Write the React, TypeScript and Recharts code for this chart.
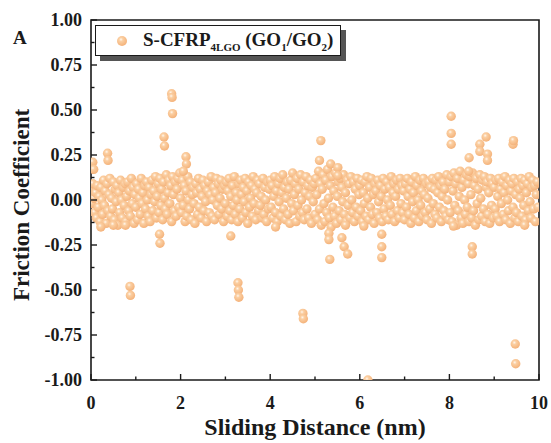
import React from 'react';
import {
  ScatterChart,
  Scatter,
  XAxis,
  YAxis,
  ReferenceArea,
  Legend,
  Label,
} from 'recharts';

const SERIES_NAME = 'S-CFRP4LGO (GO1/GO2)';

// sliding distance sampling step (nm)
const STEP = 0.02;

// friction coefficient of the main band, one row per nm of sliding distance
const baseFriction = [
  0.06, -0.02, 0.09, 0.01, -0.07, 0.04, -0.10, 0.08, -0.04, 0.02, -0.12, 0.07, 0.00, -0.08, 0.11, -0.03, 0.05, -0.13, 0.09, -0.06, 0.03, 0.12, -0.09, 0.01, -0.05,
  0.10, -0.11, 0.06, -0.01, 0.08, -0.14, 0.04, -0.07, 0.11, 0.00, -0.10, 0.07, -0.03, 0.09, -0.12, 0.02, 0.10, -0.06, 0.05, -0.09, 0.12, -0.02, 0.07, -0.13, 0.03,
  -0.04, 0.09, -0.11, 0.06, 0.01, -0.08, 0.12, -0.02, 0.04, -0.13, 0.08, -0.05, 0.10, 0.00, -0.09, 0.07, -0.12, 0.03, 0.11, -0.06, 0.05, -0.01, 0.13, -0.10, 0.02,
  0.09, -0.07, 0.12, -0.03, 0.06, -0.11, 0.10, 0.01, -0.05, 0.14, -0.08, 0.04, 0.11, -0.02, 0.08, -0.12, 0.13, 0.03, -0.06, 0.10, -0.09, 0.06, 0.12, -0.04, 0.15,
  0.01, -0.07, 0.11, -0.03, 0.08, -0.12, 0.05, -0.09, 0.13, 0.00, -0.05, 0.10, -0.11, 0.03, 0.07, -0.02, -0.13, 0.09, 0.04, -0.08, 0.12, -0.04, 0.06, -0.10, 0.02,
  0.11, -0.06, 0.08, -0.01, -0.12, 0.05, 0.10, -0.07, 0.03, 0.13, -0.09, 0.00, 0.07, -0.11, 0.04, 0.12, -0.03, 0.09, -0.08, 0.01, 0.11, -0.05, 0.06, -0.12, 0.08,
  -0.02, 0.10, -0.09, 0.05, 0.12, -0.06, 0.02, -0.11, 0.08, -0.03, 0.13, -0.08, 0.04, 0.00, -0.12, 0.09, -0.05, 0.11, 0.03, -0.10, 0.07, -0.01, 0.12, -0.07, 0.05,
  -0.13, 0.10, -0.04, 0.01, 0.08, -0.09, 0.13, -0.02, 0.06, -0.11, 0.04, 0.11, -0.06, 0.09, -0.03, 0.02, -0.10, 0.12, -0.08, 0.07, 0.00, -0.12, 0.10, -0.05, 0.06,
  0.11, -0.04, 0.08, -0.10, 0.02, 0.13, -0.07, 0.05, -0.12, 0.09, -0.01, 0.12, -0.09, 0.04, 0.14, -0.05, 0.07, -0.11, 0.01, 0.10, -0.08, 0.06, -0.13, 0.11, -0.02,
  0.15, -0.06, 0.03, 0.09, -0.12, 0.12, -0.03, 0.06, -0.09, 0.14, 0.00, -0.07, 0.10, -0.11, 0.04, 0.13, -0.05, 0.08, -0.10, 0.02, 0.11, -0.13, 0.07, -0.01, 0.09,
  -0.08, 0.12, 0.03, -0.11, 0.16, -0.05, 0.09, -0.14, 0.06, 0.14, -0.02, -0.12, 0.11, -0.07, 0.17, 0.01, -0.10, 0.08, -0.15, 0.13, -0.04, 0.05, -0.09, 0.15, -0.13,
  0.02, 0.10, -0.06, 0.12, -0.11, 0.07, -0.01, 0.14, -0.08, 0.04, -0.12, 0.11, -0.03, 0.09, -0.10, 0.13, 0.00, -0.07, 0.10, -0.12, 0.06, -0.04, 0.12, -0.09, 0.03,
  0.08, -0.06, 0.11, -0.12, 0.04, -0.02, 0.10, -0.09, 0.13, 0.01, -0.11, 0.07, -0.04, 0.12, -0.08, 0.03, -0.13, 0.09, 0.05, -0.07, 0.11, -0.01, -0.10, 0.08, 0.02,
  -0.12, 0.12, -0.05, 0.06, -0.09, 0.10, 0.00, -0.11, 0.07, -0.03, 0.13, -0.08, 0.04, 0.09, -0.12, 0.02, 0.11, -0.06, 0.06, -0.10, 0.12, -0.02, 0.08, -0.07, 0.05,
  -0.11, 0.09, -0.04, 0.12, 0.02, -0.08, 0.06, -0.13, 0.10, -0.01, 0.04, -0.10, 0.13, -0.06, 0.08, 0.00, -0.12, 0.11, -0.03, 0.05, -0.09, 0.12, 0.03, -0.07, 0.09,
  -0.11, 0.01, 0.10, -0.05, 0.07, -0.13, 0.12, -0.02, 0.06, -0.08, 0.11, -0.10, 0.04, 0.13, -0.04, 0.08, -0.12, 0.02, 0.10, -0.06, 0.06, -0.09, 0.14, 0.00, -0.11,
  0.10, -0.07, 0.13, -0.12, 0.05, 0.15, -0.03, 0.09, -0.14, 0.12, -0.06, 0.02, 0.16, -0.10, 0.07, -0.13, 0.11, 0.00, -0.08, 0.14, -0.04, 0.09, -0.12, 0.13, 0.03,
  -0.10, 0.15, -0.06, 0.08, -0.14, 0.12, -0.02, 0.06, -0.11, 0.14, 0.01, -0.09, 0.11, -0.05, 0.13, -0.12, 0.07, 0.10, -0.08, 0.04, -0.13, 0.12, -0.03, 0.09, -0.10,
  0.07, -0.05, 0.11, -0.09, 0.02, 0.12, -0.12, 0.06, -0.02, 0.10, -0.08, 0.04, 0.13, -0.11, 0.08, 0.00, -0.06, 0.11, -0.13, 0.05, 0.09, -0.04, 0.12, -0.10, 0.03,
  -0.07, 0.10, -0.12, 0.06, 0.01, 0.12, -0.09, 0.08, -0.03, 0.11, -0.11, 0.04, 0.09, -0.06, 0.13, -0.01, -0.10, 0.07, 0.11, -0.05, 0.08, -0.12, 0.03, 0.10, -0.04,
];

// spikes away from the main band
const spikeDistance = [
  0.04, 0.06, 0.37, 0.38, 1.63, 1.64, 1.80, 1.81, 1.82, 2.12, 2.13, 2.06, 1.53, 1.54, 0.22, 0.50, 0.77, 0.87, 0.88, 3.12,
  3.28, 3.29, 3.30, 4.12, 4.73, 4.74, 5.13, 5.10, 5.35, 5.51, 5.51, 5.31, 5.31, 5.33, 5.60, 5.65, 5.73, 5.68, 6.09, 6.18,
  6.49, 6.49, 6.49, 8.04, 8.04, 8.04, 8.09, 8.44, 8.43, 8.51, 8.51, 8.68, 8.68, 8.82, 8.85, 8.85, 9.42, 9.43, 9.47, 9.48, 9.68,
];
const spikeFriction = [
  0.21, 0.17, 0.26, 0.22, 0.35, 0.30, 0.59, 0.57, 0.48, 0.24, 0.20, 0.16, -0.19, -0.24, -0.15, -0.14, -0.14, -0.48, -0.53, -0.20,
  -0.46, -0.50, -0.54, -0.15, -0.63, -0.66, 0.33, 0.22, 0.20, 0.18, 0.135, -0.185, -0.22, -0.33, -0.21, -0.26, -0.30, -0.14, -0.145, -1.0,
  -0.19, -0.26, -0.32, 0.465, 0.37, 0.31, -0.145, 0.235, 0.16, -0.26, -0.30, 0.31, 0.27, 0.35, 0.255, 0.22, 0.31, 0.33, -0.80, -0.91, -0.14,
];

const xTicks = [0, 1, 2, 3, 4, 5, 6, 7, 8, 9, 10];
const yTicks = [-1, -0.875, -0.75, -0.625, -0.5, -0.375, -0.25, -0.125, 0, 0.125, 0.25, 0.375, 0.5, 0.625, 0.75, 0.875, 1];

const data = [
  ...baseFriction.map((f, i) => ({ d: +(i * STEP).toFixed(2), f })),
  ...spikeDistance.map((d, i) => ({ d, f: spikeFriction[i] })),
];

const FONT = "'Liberation Serif', 'Times New Roman', serif";
const INK = '#1a1a1a';

const Ball = (props: any) => {
  const { cx, cy } = props;
  if (cx == null || cy == null) return null;
  return <circle cx={cx} cy={cy} r={4.7} fill="url(#ball)" />;
};

const YTick = (props: any) => {
  const { x, y, payload } = props;
  const v = payload.value;
  const major = Math.abs(v * 4 - Math.round(v * 4)) < 1e-6;
  return (
    <g>
      <line x1={x} x2={x + (major ? 6 : 3.5)} y1={y} y2={y} stroke={INK} strokeWidth={1.4} />
      {major && (
        <text x={x - 9} y={y} dy="0.36em" textAnchor="end" fontFamily={FONT} fontWeight="bold" fontSize={18} fill={INK}>
          {v.toFixed(2)}
        </text>
      )}
    </g>
  );
};

const XTick = (props: any) => {
  const { x, y, payload } = props;
  const v = payload.value;
  const major = v % 2 === 0;
  return (
    <g>
      <line x1={x} x2={x} y1={y} y2={y - (major ? 6 : 3.5)} stroke={INK} strokeWidth={1.4} />
      {major && (
        <text x={x} y={y + 16} dy="0.71em" textAnchor="middle" fontFamily={FONT} fontWeight="bold" fontSize={18} fill={INK}>
          {v}
        </text>
      )}
    </g>
  );
};

const LegendBox = () => (
  <div
    style={{
      boxSizing: 'border-box',
      width: 246,
      height: 31,
      border: `1.5px solid ${INK}`,
      background: '#fff',
      boxShadow: '5px 5px 0 #555',
      display: 'flex',
      alignItems: 'center',
      fontFamily: FONT,
      fontWeight: 'bold',
      fontSize: 19,
      color: INK,
      whiteSpace: 'nowrap',
    }}
  >
    <svg width={12} height={12} style={{ marginLeft: 20, marginRight: 15 }}>
      <defs>
        <radialGradient id="ballLegend" cx="40%" cy="35%" r="65%">
          <stop offset="0%" stopColor="#fff7ee" />
          <stop offset="30%" stopColor="#fbcfa2" />
          <stop offset="100%" stopColor="#f4b27a" />
        </radialGradient>
      </defs>
      <circle cx={6} cy={6} r={5} fill="url(#ballLegend)" />
    </svg>
    <span>
      S-CFRP<sub style={{ fontSize: 11 }}>4LGO</sub> (GO<sub style={{ fontSize: 11 }}>1</sub>/GO<sub style={{ fontSize: 11 }}>2</sub>)
    </span>
  </div>
);

export default function App() {
  return (
    <div style={{ position: 'absolute', left: 0, top: 0, width: 551, height: 443, background: '#fff' }}>
      <div
        style={{
          position: 'absolute',
          left: 13,
          top: 27,
          fontFamily: FONT,
          fontWeight: 'bold',
          fontSize: 19,
          color: INK,
          zIndex: 2,
        }}
      >
        A
      </div>
      <ScatterChart width={551} height={443} margin={{ top: 20, right: 12, bottom: 23, left: 21 }}>
        <defs>
          <radialGradient id="ball" cx="40%" cy="35%" r="65%">
            <stop offset="0%" stopColor="#fff7ee" />
            <stop offset="30%" stopColor="#fbcfa2" />
            <stop offset="100%" stopColor="#f4b27a" />
          </radialGradient>
        </defs>
        <XAxis
          type="number"
          dataKey="d"
          domain={[0, 10]}
          ticks={xTicks}
          interval={0}
          height={40}
          tickSize={0}
          tickMargin={0}
          tickLine={false}
          axisLine={false}
          tick={<XTick />}
          allowDataOverflow
        >
          <Label
            value="Sliding Distance (nm)"
            position="bottom"
            offset={-2}
            style={{ fontFamily: FONT, fontWeight: 'bold', fontSize: 24, fill: INK }}
          />
        </XAxis>
        <YAxis
          type="number"
          dataKey="f"
          domain={[-1, 1]}
          ticks={yTicks}
          interval={0}
          width={70}
          tickSize={0}
          tickMargin={0}
          tickLine={false}
          axisLine={false}
          tick={<YTick />}
          allowDataOverflow
        >
          <Label
            content={() => (
              <text
                x={21}
                y={205}
                dy="0.35em"
                transform="rotate(-90, 21, 205)"
                textAnchor="middle"
                fontFamily={FONT}
                fontWeight="bold"
                fontSize={23}
                fill={INK}
              >
                Friction Coefficient
              </text>
            )}
          />
        </YAxis>
        <ReferenceArea x1={0} x2={10} y1={-1} y2={1} fill="none" stroke={INK} strokeWidth={1.6} ifOverflow="visible" />
        <Legend
          layout="vertical"
          align="center"
          verticalAlign="middle"
          content={<LegendBox />}
          wrapperStyle={{ left: 95, top: 25, width: 'auto', height: 'auto' }}
        />
        <Scatter name={SERIES_NAME} data={data} shape={<Ball />} isAnimationActive={false} />
      </ScatterChart>
    </div>
  );
}
